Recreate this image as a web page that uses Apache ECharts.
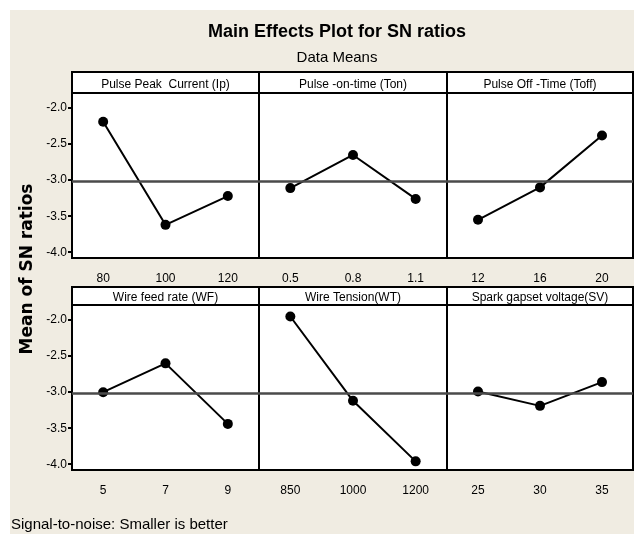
<!DOCTYPE html>
<html lang="en">

<head>
    <meta charset="UTF-8">
    <title>Main Effects Plot for SN ratios</title>
    <script src="https://cdn.jsdelivr.net/npm/echarts@6.0.0/dist/echarts.min.js"></script>
    <style>
        * {
            margin: 0;
            padding: 0
        }

        html,
        body {
            width: 100%;
            height: 100%;
            background: #fff;
        }

        #main {
            width: 634px;
            height: 534px;
        }
    </style>
</head>

<body>
    <div id="main"></div>
    <script type="text/javascript">
        // factor names (panel headers)
        var factors = ['Pulse Peak  Current (Ip)', 'Pulse -on-time (Ton)', 'Pulse Off -Time (Toff)',
            'Wire feed rate (WF)', 'Wire Tension(WT)', 'Spark gapset voltage(SV)'];

        // levels of each factor
        var ipLevels = ['80', '100', '120'];
        var tonLevels = ['0.5', '0.8', '1.1'];
        var toffLevels = ['12', '16', '20'];
        var wfLevels = ['5', '7', '9'];
        var wtLevels = ['850', '1000', '1200'];
        var svLevels = ['25', '30', '35'];

        // mean of SN ratios per level
        var ipMeans = [-2.19, -3.62, -3.22];
        var tonMeans = [-3.11, -2.65, -3.26];
        var toffMeans = [-3.55, -3.10, -2.38];
        var wfMeans = [-3.00, -2.60, -3.44];
        var wtMeans = [-1.95, -3.12, -3.96];
        var svMeans = [-2.99, -3.19, -2.86];

        var grandMean = -3.01;
        var yTicks = [-4.0, -3.5, -3.0, -2.5, -2.0];

        var levels = [ipLevels, tonLevels, toffLevels, wfLevels, wtLevels, svLevels];
        var means = [ipMeans, tonMeans, toffMeans, wfMeans, wtMeans, svMeans];

        var font = '"Liberation Sans", Arial, sans-serif';

        // panel layout
        var colLeft = [72, 259, 447];
        var colWidth = [187, 188, 186];
        var rowTop = [93, 305];
        var headTop = [72, 287];
        var plotH = 165;

        var myChart = echarts.init(document.getElementById('main'));

        var grids = [], xAxes = [], yAxes = [], series = [];
        var graphics = [{
            type: 'rect',
            z: -100,
            shape: { x: 10, y: 10, width: 624, height: 524 },
            style: { fill: '#f0ece2' }
        }];

        for (var i = 0; i < 6; i++) {
            var r = Math.floor(i / 3), c = i % 3;
            grids.push({
                left: colLeft[c], top: rowTop[r], width: colWidth[c], height: plotH,
                show: true, backgroundColor: '#fff', borderColor: '#000', borderWidth: 2
            });
            xAxes.push({
                type: 'category',
                gridIndex: i,
                data: levels[i],
                boundaryGap: true,
                axisLine: { lineStyle: { color: '#000', width: 2 } },
                axisTick: { alignWithLabel: true, length: 6, lineStyle: { color: '#000', width: 2 } },
                axisLabel: { margin: 15, color: '#000', fontSize: 12, fontFamily: font },
                splitLine: { show: false }
            });
            yAxes.push({
                type: 'value',
                gridIndex: i,
                min: -4.08,
                max: -1.79,
                axisLine: { show: true, lineStyle: { color: '#000', width: 2 } },
                axisTick: {
                    show: c === 0, length: 4, customValues: yTicks,
                    lineStyle: { color: '#000', width: 2 }
                },
                axisLabel: {
                    show: c === 0, margin: 5, customValues: yTicks, color: '#000',
                    fontSize: 12, fontFamily: font,
                    formatter: function (v) { return v.toFixed(1); }
                },
                splitLine: { show: false }
            });
            series.push({
                name: factors[i],
                type: 'line',
                xAxisIndex: i,
                yAxisIndex: i,
                data: means[i],
                symbol: 'circle',
                symbolSize: 10,
                itemStyle: { color: '#000' },
                lineStyle: { color: '#000', width: 2 },
                markLine: {
                    silent: true,
                    symbol: 'none',
                    label: { show: false },
                    lineStyle: { color: '#4a4a4a', width: 2.5, type: 'solid' },
                    data: [{ yAxis: grandMean }]
                }
            });

            // header strip
            var hh = rowTop[r] - headTop[r];
            graphics.push({
                type: 'rect',
                z: 10,
                shape: { x: colLeft[c], y: headTop[r], width: colWidth[c], height: hh },
                style: { fill: '#fff', stroke: '#000', lineWidth: 2 }
            });
            graphics.push({
                type: 'text',
                z: 11,
                x: colLeft[c] + colWidth[c] / 2,
                y: headTop[r] + hh / 2 + 2,
                style: {
                    text: factors[i], font: '12px ' + font, fill: '#000',
                    align: 'center', verticalAlign: 'middle',
                    textAlign: 'center', textVerticalAlign: 'middle'
                }
            });
        }

        graphics.push({
            type: 'text',
            x: 28,
            y: 269,
            rotation: Math.PI / 2,
            style: {
                text: 'Mean of SN ratios', font: 'bold 17px "DejaVu Sans"', fill: '#000',
                align: 'center', verticalAlign: 'middle',
                textAlign: 'center', textVerticalAlign: 'middle'
            }
        });
        graphics.push({
            type: 'text',
            x: 11,
            y: 525,
            style: {
                text: 'Signal-to-noise: Smaller is better', font: '15px ' + font, fill: '#000',
                align: 'left', verticalAlign: 'middle',
                textAlign: 'left', textVerticalAlign: 'middle'
            }
        });

        var option = {
            animation: false,
            backgroundColor: '#fff',
            title: [{
                text: 'Main Effects Plot for SN ratios',
                left: 332,
                top: 18,
                textAlign: 'center',
                textStyle: { color: '#000', fontSize: 18, fontWeight: 'bold', fontFamily: font }
            }, {
                text: 'Data Means',
                left: 332,
                top: 45,
                textAlign: 'center',
                textStyle: { color: '#000', fontSize: 15, fontWeight: 'normal', fontFamily: font }
            }],
            grid: grids,
            xAxis: xAxes,
            yAxis: yAxes,
            series: series,
            graphic: graphics
        };

        myChart.setOption(option);
    </script>
</body>

</html>
